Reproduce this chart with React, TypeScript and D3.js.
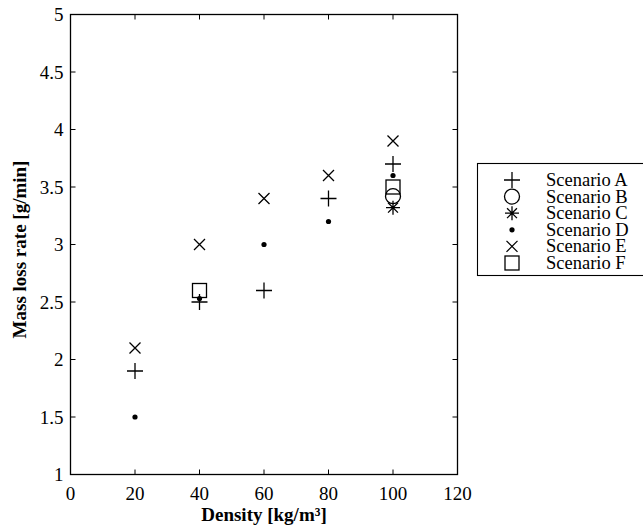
import * as d3 from 'd3';

const densities = [20, 40, 60, 80, 100];
const scenarioA = [1.9, 2.5, 2.6, 3.4, 3.7];
const scenarioB = [null, null, null, null, 3.42];
const scenarioC = [null, null, null, null, 3.32];
const scenarioD = [1.5, 2.53, 3.0, 3.2, 3.6];
const scenarioE = [2.1, 3.0, 3.4, 3.6, 3.9];
const scenarioF = [null, 2.6, null, null, 3.5];

const xTicks = [0, 20, 40, 60, 80, 100, 120];
const yTicks = [1, 1.5, 2, 2.5, 3, 3.5, 4, 4.5, 5];

type Kind = 'plus' | 'circle' | 'star' | 'dot' | 'cross' | 'square';

const SERIES: { name: string; kind: Kind; values: (number | null)[] }[] = [
  { name: 'Scenario A', kind: 'plus', values: scenarioA },
  { name: 'Scenario B', kind: 'circle', values: scenarioB },
  { name: 'Scenario C', kind: 'star', values: scenarioC },
  { name: 'Scenario D', kind: 'dot', values: scenarioD },
  { name: 'Scenario E', kind: 'cross', values: scenarioE },
  { name: 'Scenario F', kind: 'square', values: scenarioF },
];

function Marker({ kind, x, y }: { kind: Kind; x: number; y: number }) {
  const s = { stroke: '#000', strokeWidth: 1.3, fill: 'none' };
  if (kind === 'plus') {
    const r = 8;
    return <path d={`M${x - r},${y}H${x + r}M${x},${y - r}V${y + r}`} {...s} />;
  }
  if (kind === 'cross') {
    const r = 5.5;
    return <path d={`M${x - r},${y - r}L${x + r},${y + r}M${x - r},${y + r}L${x + r},${y - r}`} {...s} />;
  }
  if (kind === 'circle') return <circle cx={x} cy={y} r={7.5} {...s} />;
  if (kind === 'square') return <rect x={x - 7} y={y - 7} width={14} height={14} {...s} />;
  if (kind === 'dot') return <circle cx={x} cy={y} r={2.6} fill="#000" />;
  const r = 7;
  const d = r * 0.7071;
  return (
    <path
      d={`M${x - r},${y}H${x + r}M${x},${y - r}V${y + r}M${x - d},${y - d}L${x + d},${y + d}M${x - d},${y + d}L${x + d},${y - d}`}
      {...s}
    />
  );
}

export default function App() {
  const width = 643;
  const height = 529;
  const margin = { left: 70.5, top: 14.5, right: 457.5, bottom: 474.5 };
  const x = d3.scaleLinear().domain([0, 120]).range([margin.left, margin.right]);
  const y = d3.scaleLinear().domain([1, 5]).range([margin.bottom, margin.top]);
  const font = '"Liberation Serif", "Times New Roman", serif';
  const tick = 5;

  return (
    <svg width={width} height={height} style={{ position: 'absolute', left: 0, top: 0, background: '#fff', fontFamily: font }}>
      <rect x={0} y={0} width={width} height={height} fill="#fff" />
      <rect
        x={margin.left}
        y={margin.top}
        width={margin.right - margin.left}
        height={margin.bottom - margin.top}
        fill="none"
        stroke="#000"
        strokeWidth={1.3}
      />
      {xTicks.map((t) => (
        <g key={'x' + t}>
          <line x1={x(t)} x2={x(t)} y1={margin.bottom} y2={margin.bottom - tick} stroke="#000" />
          <line x1={x(t)} x2={x(t)} y1={margin.top} y2={margin.top + tick} stroke="#000" />
          <text x={x(t)} y={margin.bottom + 25} textAnchor="middle" fontSize={19}>
            {t}
          </text>
        </g>
      ))}
      {yTicks.map((t) => (
        <g key={'y' + t}>
          <line x1={margin.left} x2={margin.left + tick} y1={y(t)} y2={y(t)} stroke="#000" />
          <line x1={margin.right} x2={margin.right - tick} y1={y(t)} y2={y(t)} stroke="#000" />
          <text x={margin.left - 7} y={y(t) + 6.5} textAnchor="end" fontSize={19}>
            {t}
          </text>
        </g>
      ))}
      <text x={(margin.left + margin.right) / 2} y={521} textAnchor="middle" fontSize={19} fontWeight="bold">
        Density [kg/m³]
      </text>
      <text
        transform={`translate(26,${(margin.top + margin.bottom) / 2 + 5}) rotate(-90)`}
        textAnchor="middle"
        fontSize={19}
        fontWeight="bold"
      >
        Mass loss rate [g/min]
      </text>
      {SERIES.map((s) =>
        s.values.map((v, i) =>
          v === null ? null : <Marker key={s.name + i} kind={s.kind} x={x(densities[i])} y={y(v)} />
        )
      )}
      <rect x={477.5} y={163.5} width={180} height={112} fill="#fff" stroke="#000" strokeWidth={1.1} />
      {SERIES.map((s, i) => (
        <g key={'leg' + s.name}>
          <Marker kind={s.kind} x={512} y={180 + i * 16.6} />
          <text x={546} y={180 + i * 16.6 + 6} fontSize={18.5}>
            {s.name}
          </text>
        </g>
      ))}
    </svg>
  );
}
